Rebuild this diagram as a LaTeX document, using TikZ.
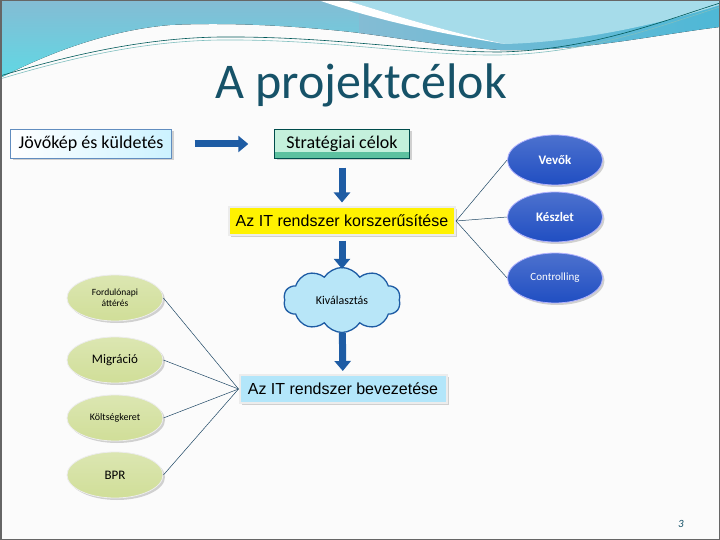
\documentclass[tikz,border=0pt]{standalone}
\usepackage{fontspec}
\setmainfont{Carlito}
\newfontfamily\arialfont{Liberation Sans}
\usetikzlibrary{arrows.meta}
\usetikzlibrary{shapes.geometric}
\usetikzlibrary{shapes.symbols}
\usetikzlibrary{shadows}
\definecolor{titleteal}{RGB}{22,82,104}
\definecolor{arrowblue}{RGB}{30,92,164}
\definecolor{bandtop}{RGB}{132,188,212}
\definecolor{bandbot}{RGB}{96,216,228}
\definecolor{bandright}{RGB}{78,184,214}
\definecolor{lightband}{RGB}{166,220,234}
\definecolor{ovalgreen}{RGB}{208,222,152}
\definecolor{ovalblue}{RGB}{32,78,194}
\definecolor{cloudblue}{RGB}{184,230,248}
\definecolor{stratgreen}{RGB}{52,178,136}
\definecolor{stratlight}{RGB}{196,240,220}
\definecolor{linkteal}{RGB}{30,70,100}
\tikzset{
  softshadow/.style={drop shadow={shadow xshift=2pt,shadow yshift=-2pt,opacity=0.35}},
  boxnode/.style={rectangle,inner sep=0pt,softshadow},
  bigarrow/.style={line width=7pt,draw=arrowblue,-{Triangle[length=10pt,width=16pt]}},
  greenoval/.style={ellipse,draw=white!85!gray,thick,inner sep=0pt,minimum width=96pt,minimum height=46pt,top color=ovalgreen!75!white,bottom color=ovalgreen,softshadow,align=center},
  blueoval/.style={ellipse,draw=white!70!blue,thick,inner sep=0pt,minimum width=95pt,minimum height=50pt,top color=ovalblue!80!white,bottom color=ovalblue,text=white,softshadow},
  link/.style={linkteal,line width=0.5pt}
}
\begin{document}
\begin{tikzpicture}[x=1pt,y=-1pt]
\useasboundingbox (0,0) rectangle (720,540);
\fill[white!97!gray] (0,0) rectangle (720,540);

\fill[top color=bandtop, bottom color=bandbot] (0,0) -- (360,0) -- (360,33) .. controls (300,26) and (230,22) .. (170,25) .. controls (110,30) and (50,52) .. (0,78) -- cycle;
\fill[left color=bandtop, right color=bandright] (359,0) -- (720,0) -- (720,27) .. controls (660,34) and (580,52) .. (500,50) .. controls (440,46) and (400,38) .. (359,33) -- cycle;
\fill[lightband] (345,0) -- (720,0) -- (720,5) .. controls (660,24) and (580,42) .. (505,44) .. controls (440,30) and (390,14) .. (345,0) -- cycle;
\fill[white] (318,0) -- (345,0) .. controls (390,14) and (440,30) .. (505,44) .. controls (430,32) and (370,18) .. (318,0) -- cycle;
\draw[teal!70!black, line width=0.6pt] (0,76) .. controls (80,52) and (150,38) .. (220,37) .. controls (330,36) and (420,52) .. (500,52) .. controls (590,50) and (660,22) .. (720,3);
\draw[teal!50, line width=0.6pt] (0,79) .. controls (80,55) and (150,41) .. (220,40) .. controls (330,39) and (420,56) .. (500,55) .. controls (590,53) and (660,26) .. (720,7);
\draw[gray!80!black, line width=1.5pt] (0.75,0.75) rectangle (719.25,539.25);

\node[anchor=base, text=titleteal, font=\fontsize{50}{60}\selectfont] (title) at (361,99) {A projektcélok};

\node[boxnode, draw=arrowblue!70, left color=white, right color=blue!25!cyan!20, minimum width=161pt, minimum height=29pt, font=\fontsize{18}{20}\selectfont] (jov) at (91,144) {Jövőkép és küldetés};
\node[boxnode, draw=teal!60!black, fill=stratlight, minimum width=135pt, minimum height=29pt, font=\fontsize{18}{20}\selectfont] (strat) at (342,144) {Stratégiai célok};
\fill[stratgreen!80!white] ([xshift=0.5pt,yshift=0.5pt]strat.south west) rectangle ([xshift=-0.5pt,yshift=7pt]strat.south east);
\node[boxnode, draw=white!85!gray, line width=2pt, fill=yellow, minimum width=226pt, minimum height=27pt, font=\arialfont\fontsize{16}{18}\selectfont] (kor) at (342,221) {Az IT rendszer korszerűsítése};
\node[cloud, cloud puffs=10, cloud puff arc=115, aspect=1.8, draw=arrowblue, line width=1.3pt, fill=cloudblue, minimum width=117pt, minimum height=65pt, inner sep=0pt, font=\fontsize{12}{14}\selectfont] (kiv) at (342,300) {Kiválasztás};
\node[boxnode, draw=white!85!gray, line width=2pt, fill=cyan!30!white, minimum width=207pt, minimum height=28pt, font=\arialfont\fontsize{16}{18}\selectfont] (bev) at (343,389) {Az IT rendszer bevezetése};

\draw[bigarrow, shorten <=23pt, shorten >=26pt] (jov) -- (strat);
\draw[bigarrow, shorten <=9pt, shorten >=4pt] (strat) -- (kor);
\draw[bigarrow, shorten <=5pt, shorten >=-2pt] (kor) -- (kiv);
\draw[bigarrow, shorten >=3pt] (kiv) -- (bev);

\node[greenoval, font=\fontsize{9.5}{11}\selectfont] (ford) at (115,298) {Fordulónapi\\áttérés};
\node[greenoval, font=\fontsize{13}{15}\selectfont] (migr) at (115,360) {Migráció};
\node[greenoval, font=\fontsize{10}{12}\selectfont] (kolt) at (115,418) {Költségkeret};
\node[greenoval, font=\fontsize{13}{15}\selectfont] (bpr) at (115,475) {BPR};

\draw[link] (ford.east) -- (bev.west);
\draw[link] (migr.east) -- (bev.west);
\draw[link] (kolt.east) -- (bev.west);
\draw[link] (bpr.east) -- (bev.west);

\node[blueoval, font=\bfseries\fontsize{13}{15}\selectfont] (vevo) at (555,160) {Vevők};
\node[blueoval, font=\bfseries\fontsize{13}{15}\selectfont] (kesz) at (555,217) {Készlet};
\node[blueoval, font=\fontsize{11}{13}\selectfont] (contr) at (555,278) {Controlling};

\draw[link] (kor.east) -- (vevo.west);
\draw[link] (kor.east) -- (kesz.west);
\draw[link] (kor.east) -- (contr.west);

\node[text=titleteal, font=\itshape\fontsize{11}{13}\selectfont] (page) at (681,524) {3};
\end{tikzpicture}
\end{document}
